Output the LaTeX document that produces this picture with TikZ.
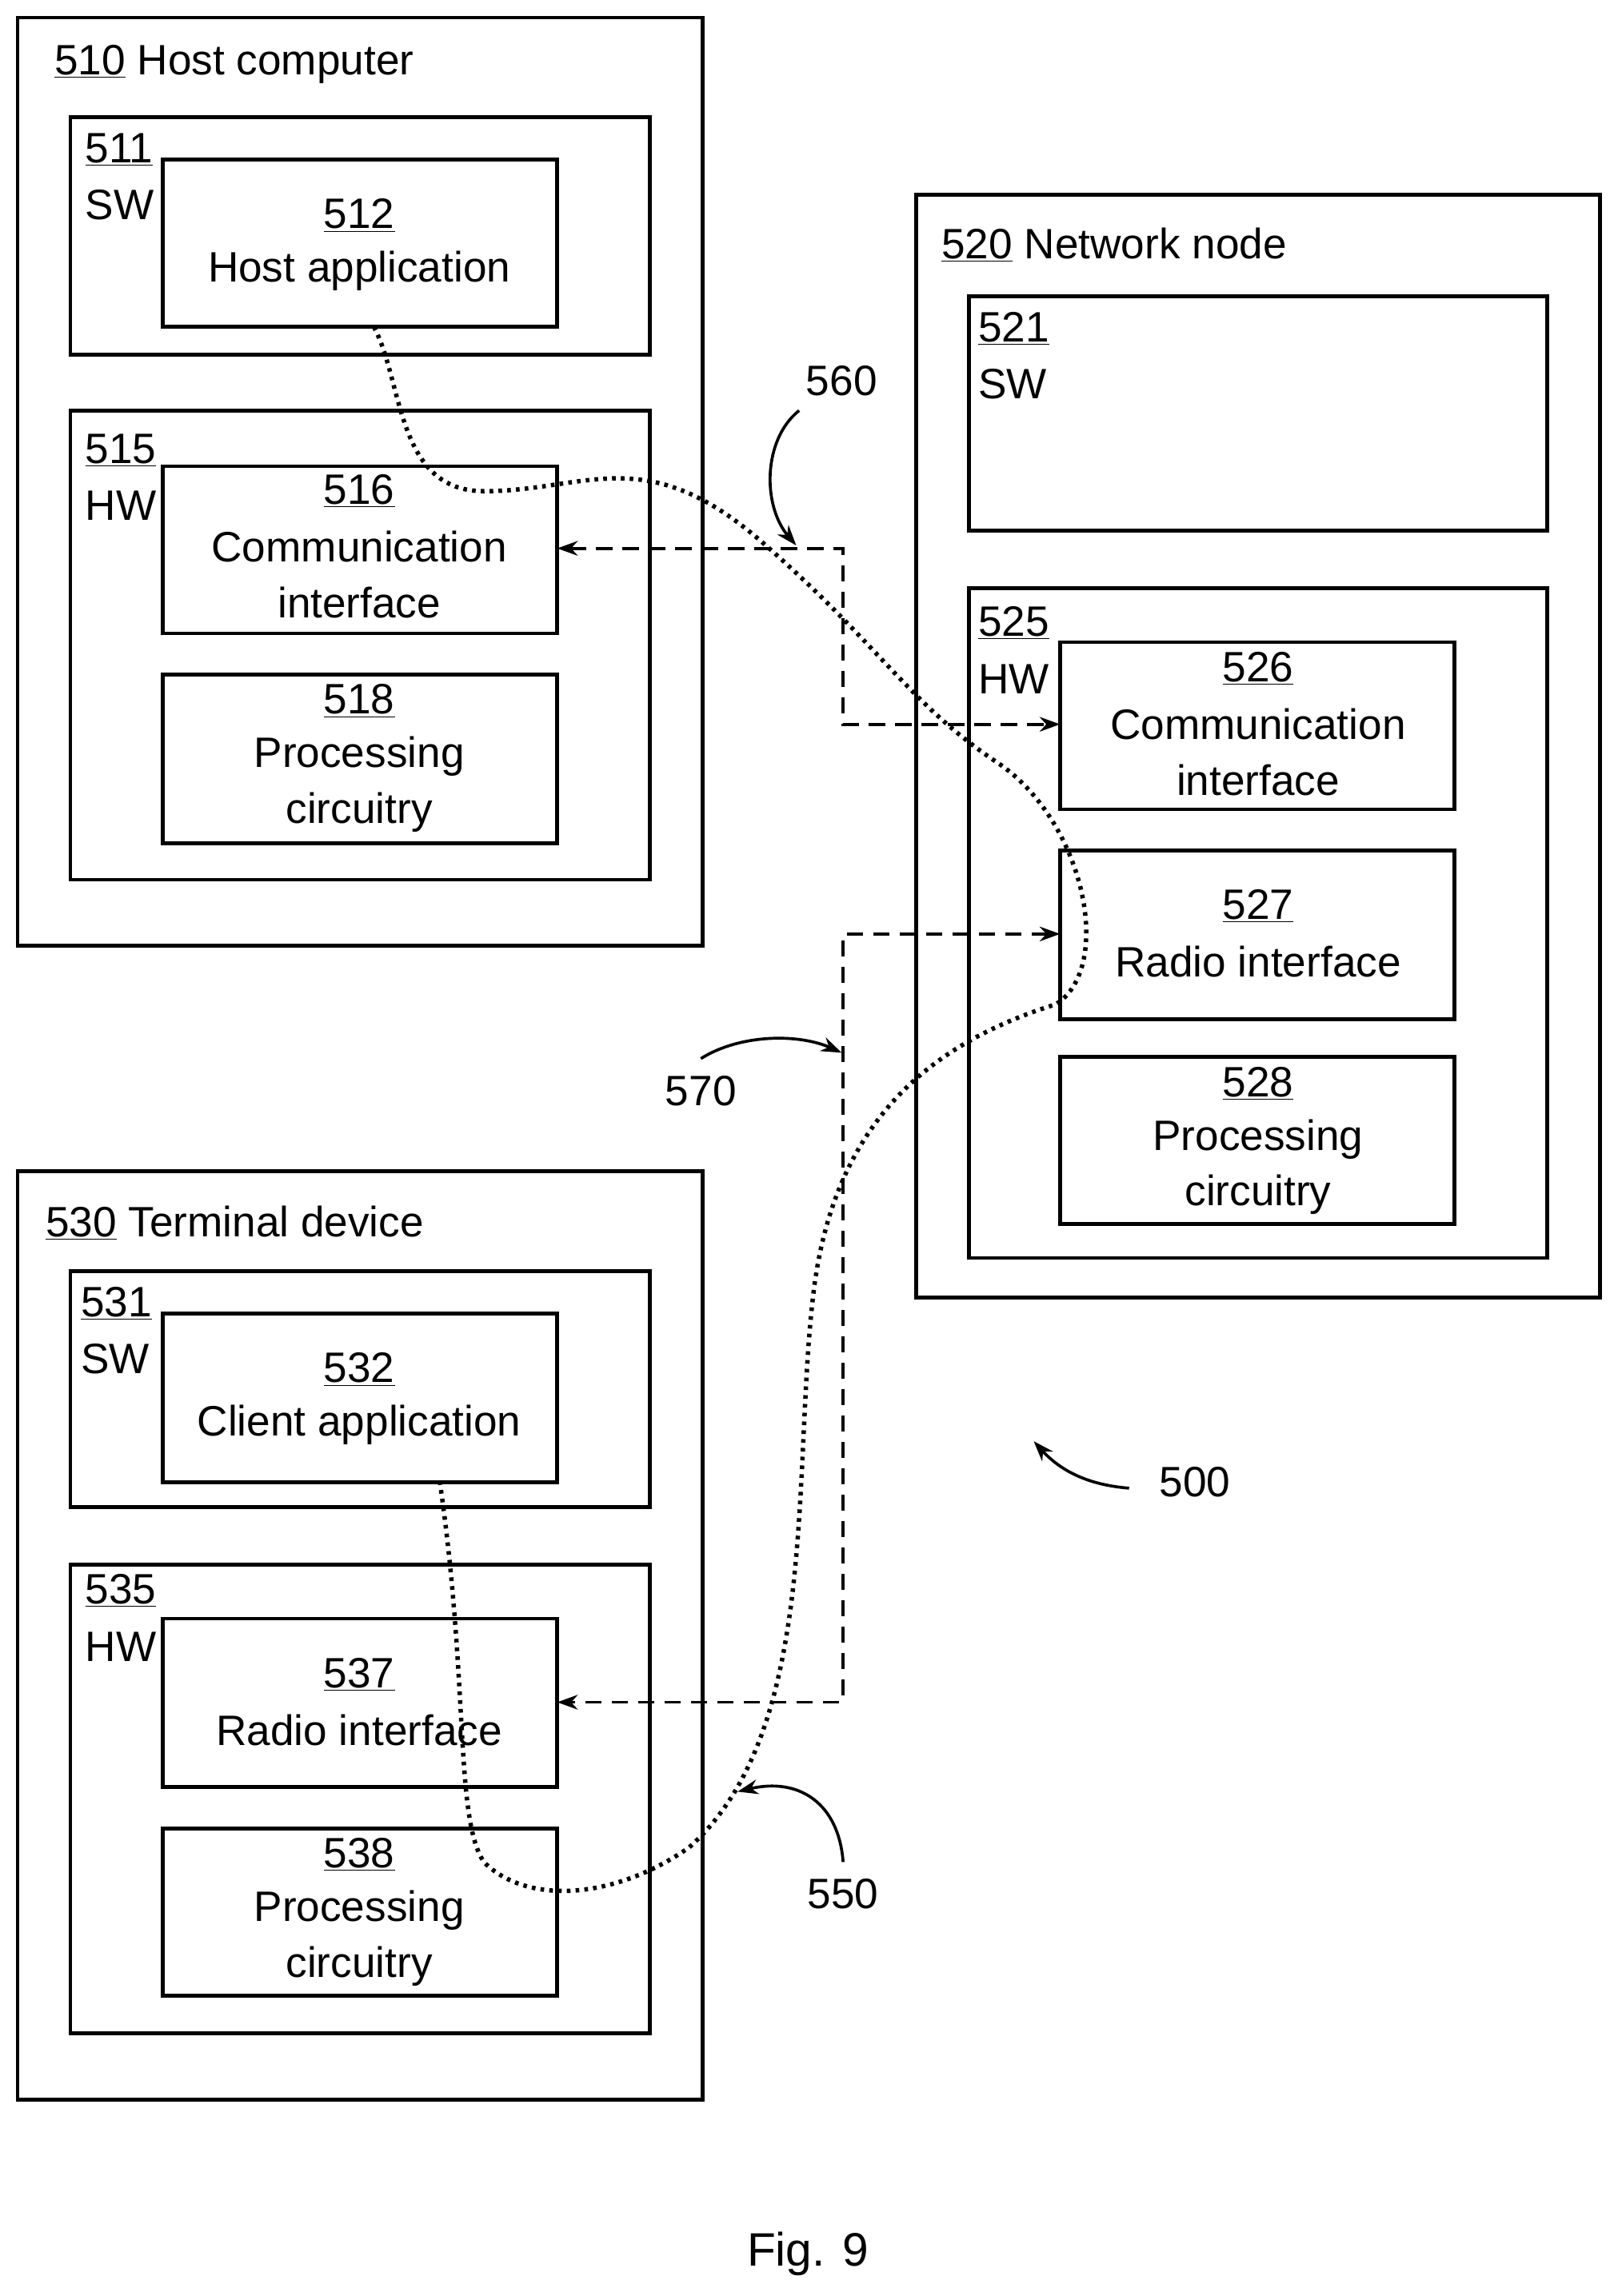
\documentclass[tikz,border=0pt]{standalone}
\usepackage{fontspec}
\setmainfont{Liberation Sans}
\usetikzlibrary{arrows.meta}
\begin{document}
\begin{tikzpicture}[x=1pt,y=-1pt,
  box/.style={draw,line width=2.6pt},
  t/.style={font=\fontsize{29}{34}\selectfont,inner sep=0pt},
  dashln/.style={line width=2pt,dash pattern=on 11pt off 7pt,{Stealth[length=14pt,width=10pt]}-{Stealth[length=14pt,width=10pt]}},
  dots/.style={line width=3pt,dash pattern=on 2.5pt off 3.5pt},
  lab/.style={line width=2pt,-{Stealth[length=14pt,width=10pt]}}]
\useasboundingbox (0,0) rectangle (1103,1566);
% Host computer
\draw[box] (12,12) rectangle (479,645);
\node[t,anchor=west] (t510) at (37,44) {\underline{510} Host computer};
\draw[box] (48,80) rectangle (443,242);
\node[t,anchor=west] (l511) at (58,102) {\underline{511}};
\node[t,anchor=west] (s511) at (58,140) {SW};
\draw[box,fill=white] (111,109) rectangle (380,223);
\node[t] (n512) at (245,147) {\underline{512}};
\node[t] (h512) at (245,185) {Host application};
\draw[box] (48,280) rectangle (443,600);
\node[t,anchor=west] (l515) at (58,307) {\underline{515}};
\node[t,anchor=west] (s515) at (58,345) {HW};
\draw[box,fill=white] (111,318) rectangle (380,432);
\coordinate (c516) at (380,374);
\node[t] at (245,335) {\underline{516}};
\node[t] at (245,373) {Communication};
\node[t] at (245,411) {interface};
\draw[box] (111,460) rectangle (380,575);
\node[t] at (245,478) {\underline{518}};
\node[t] at (245,516) {Processing};
\node[t] at (245,554) {circuitry};
% Network node
\draw[box] (625,133) rectangle (1091,885);
\node[t,anchor=west] at (642,167) {\underline{520} Network node};
\draw[box] (661,202) rectangle (1055,362);
\node[t,anchor=west] at (667,224) {\underline{521}};
\node[t,anchor=west] at (667,262) {SW};
\draw[box] (661,401) rectangle (1055,858);
\node[t,anchor=west] at (667,425) {\underline{525}};
\node[t,anchor=west] at (667,463) {HW};
\draw[box,fill=white] (723,438) rectangle (992,552);
\coordinate (c526) at (723,494);
\node[t] at (858,456) {\underline{526}};
\node[t] at (858,494) {Communication};
\node[t] at (858,532) {interface};
\draw[box,fill=white] (723,580) rectangle (992,695);
\coordinate (c527) at (723,637);
\node[t] at (858,618) {\underline{527}};
\node[t] at (858,656) {Radio interface};
\draw[box] (723,721) rectangle (992,835);
\node[t] at (858,739) {\underline{528}};
\node[t] at (858,777) {Processing};
\node[t] at (858,815) {circuitry};
% Terminal device
\draw[box] (12,799) rectangle (479,1432);
\node[t,anchor=west] at (31,834) {\underline{530} Terminal device};
\draw[box] (48,867) rectangle (443,1028);
\node[t,anchor=west] at (55,889) {\underline{531}};
\node[t,anchor=west] at (55,927) {SW};
\draw[box,fill=white] (111,896) rectangle (380,1011);
\node[t] at (245,934) {\underline{532}};
\node[t] at (245,972) {Client application};
\draw[box] (48,1067) rectangle (443,1387);
\node[t,anchor=west] at (58,1085) {\underline{535}};
\node[t,anchor=west] at (58,1123) {HW};
\draw[box] (111,1104) rectangle (380,1219);
\coordinate (c537) at (380,1161);
\node[t] at (245,1142) {\underline{537}};
\node[t] at (245,1180) {Radio interface};
\draw[box] (111,1247) rectangle (380,1361);
\node[t] at (245,1265) {\underline{538}};
\node[t] at (245,1303) {Processing};
\node[t] at (245,1341) {circuitry};
% dashed connections
\coordinate (d1) at (575,374); \coordinate (d2) at (575,494);
\coordinate (d3) at (575,637); \coordinate (d4) at (575,1161);
\draw[dashln] (c516) -- (d1) -- (d2) -- (c526);
\draw[dashln] (c527) -- (d3) -- (d4) -- (c537);
% dotted path
\coordinate (p0) at (255,223);
\coordinate (p9) at (300,1011);
\draw[dots] (p0) .. controls (275,260) and (270,335) .. (330,335)
  .. controls (400,335) and (440,300) .. (520,370)
  .. controls (600,440) and (620,480) .. (680,520)
  .. controls (740,560) and (760,660) .. (720,685)
  .. controls (640,710) and (570,760) .. (555,880)
  .. controls (540,1000) and (560,1180) .. (470,1260)
  .. controls (420,1295) and (360,1300) .. (330,1270)
  .. controls (310,1240) and (320,1150) .. (p9);
% labels
\node[t] (l560) at (574,260) {560};
\node[t] (l570) at (478,744) {570};
\node[t] (l550) at (575,1292) {550};
\node[t] (l500) at (815,1011) {500};
\node[t,font=\fontsize{32}{38}\selectfont] (fig) at (551,1537) {Fig. 9};
\draw[lab] (545,280) .. controls (520,300) and (520,345) .. (543,372);
\draw[lab] (478,722) .. controls (505,705) and (545,705) .. (574,718);
\draw[lab] (575,1270) .. controls (572,1230) and (545,1212) .. (503,1222);
\draw[lab] (770,1015) .. controls (745,1013) and (725,1005) .. (705,983);
\end{tikzpicture}
\end{document}
